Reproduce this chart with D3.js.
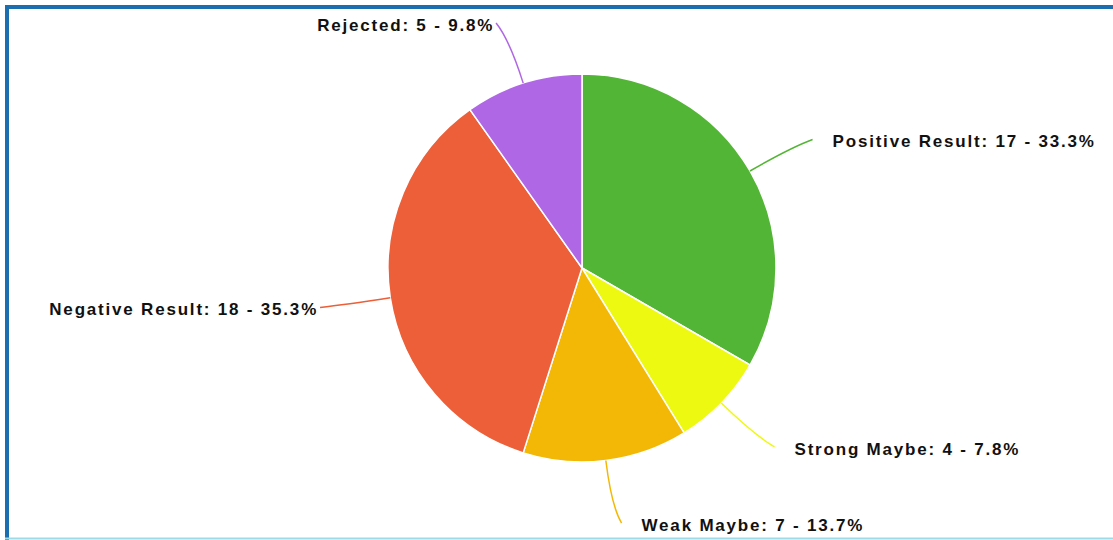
<!DOCTYPE html>
<html>
<head>
<meta charset="utf-8">
<script src="https://cdn.jsdelivr.net/npm/d3@7"></script>
<style>
  body { margin: 0; background: #fff; }
  svg text { font-family: "Liberation Sans", Arial, sans-serif; font-weight: bold; fill: #111; }
</style>
</head>
<body>
<div id="chart"></div>
<script>
const width = 1113;
const height = 540;

const categories = ['Positive Result', 'Strong Maybe', 'Weak Maybe', 'Negative Result', 'Rejected'];
const counts = [17, 4, 7, 18, 5];
const percents = ['33.3%', '7.8%', '13.7%', '35.3%', '9.8%'];
const colors = ['#53b535', '#eef911', '#f3b806', '#ec5f38', '#b067e5'];

const cx = 582, cy = 268, radius = 194;

const svg = d3.select('#chart').append('svg')
  .attr('width', width)
  .attr('height', height);

// frame
svg.append('line').attr('x1', 5).attr('x2', width).attr('y1', 7).attr('y2', 7)
  .attr('stroke', '#1b6eb0').attr('stroke-width', 4);
svg.append('line').attr('x1', 7).attr('x2', 7).attr('y1', 5).attr('y2', height)
  .attr('stroke', '#1b6eb0').attr('stroke-width', 4);
svg.append('line').attr('x1', 5).attr('x2', width).attr('y1', 538.5).attr('y2', 538.5)
  .attr('stroke', '#9fdbe6').attr('stroke-width', 2);

const data = categories.map((c, i) => ({ name: c, value: counts[i], pct: percents[i], color: colors[i] }));

const pie = d3.pie().sort(null).value(d => d.value);
const arcs = pie(data);

const arc = d3.arc().innerRadius(0).outerRadius(radius);

const g = svg.append('g').attr('transform', `translate(${cx},${cy})`);

g.selectAll('path.slice')
  .data(arcs)
  .enter()
  .append('path')
  .attr('class', 'slice')
  .attr('d', arc)
  .attr('fill', d => d.data.color)
  .attr('stroke', '#fff')
  .attr('stroke-width', 1.5);

function polar(a, r) {
  return [Math.sin(a) * r, -Math.cos(a) * r];
}

const labels = g.selectAll('g.label')
  .data(arcs)
  .enter()
  .append('g')
  .attr('class', 'label');

labels.each(function(d) {
  const node = d3.select(this);
  const mid = (d.startAngle + d.endAngle) / 2;
  const right = Math.sin(mid) > 0;
  const p0 = polar(mid, radius);
  const c = polar(mid, 240);
  const p1 = polar(mid, 257);
  p1[0] += right ? 8 : -8;

  node.append('path')
    .attr('d', `M${p0[0]},${p0[1]} Q${c[0]},${c[1]} ${p1[0]},${p1[1]}`)
    .attr('fill', 'none')
    .attr('stroke', d.data.color)
    .attr('stroke-width', 1.5);

  node.append('text')
    .attr('x', right ? p1[0] + 20 : p1[0] - 2)
    .attr('y', p1[1])
    .attr('dy', '0.45em')
    .attr('text-anchor', right ? 'start' : 'end')
    .style('font-size', '17px')
    .style('letter-spacing', '1.8px')
    .text(`${d.data.name}: ${d.data.value} - ${d.data.pct}`);
});
</script>
</body>
</html>
